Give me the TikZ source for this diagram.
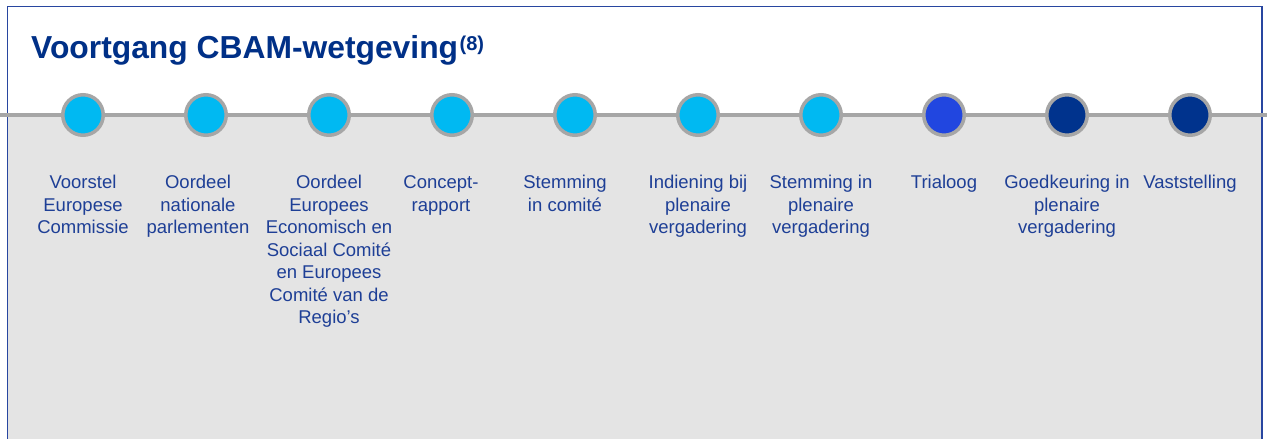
\documentclass[tikz,border=0pt]{standalone}
\usepackage{fontspec}
\setmainfont{Liberation Sans}
\definecolor{framec}{RGB}{40,70,160}
\definecolor{titlec}{RGB}{0,48,135}
\definecolor{labelc}{RGB}{30,63,150}
\definecolor{linec}{RGB}{166,166,166}
\definecolor{panelc}{RGB}{228,228,228}
\definecolor{cyanc}{RGB}{0,185,242}
\definecolor{midc}{RGB}{33,70,224}
\definecolor{navyc}{RGB}{0,51,141}
\newcommand{\fl}{\vphantom{lV}}
\tikzset{
  dot/.style={circle, draw=linec, line width=3.5pt, minimum size=40.5pt, inner sep=0pt},
  lbl/.style={anchor=north, align=center, inner sep=0pt, text=labelc,
    font=\fontsize{18.5}{22.5}\selectfont},
  timeline/.style={draw=linec, line width=4pt},
}
\begin{document}
\begin{tikzpicture}[x=1pt,y=-1pt]
\useasboundingbox (0,0) rectangle (1267,439);
\fill[white] (0,0) rectangle (1267,439);
\fill[panelc] (8,115) rectangle (1262,445);
\draw[framec, line width=1.5pt] (7.5,445) -- (7.5,6.5) -- (1262,6.5) -- (1262,445);
\node[anchor=base west, inner sep=0pt, text=titlec, font=\bfseries\fontsize{31.8}{36}\selectfont] (title) at (31,58.5)
  {Voortgang CBAM-wetgeving\hspace{1.5pt}\raisebox{8.5pt}{\fontsize{20}{22}\selectfont(8)}};
\coordinate (lstart) at (0,115);
\coordinate (lend) at (1267,115);
\draw[timeline] (lstart) -- (lend);
\foreach \i/\c in {1/cyanc,2/cyanc,3/cyanc,4/cyanc,5/cyanc,6/cyanc,7/cyanc,8/midc,9/navyc,10/navyc}{
  \node[dot, fill=\c] (d\i) at ({83+123*(\i-1)},115) {};
}
\node[lbl] (t1) at (83,175) {\fl Voorstel\\Europese\\Commissie};
\node[lbl] (t2) at (198,175) {\fl Oordeel\\nationale\\parlementen};
\node[lbl] (t3) at (329,175) {\fl Oordeel\\Europees\\Economisch en\\Sociaal Comité\\en Europees\\Comité van de\\Regio’s};
\node[lbl] (t4) at (441,175) {\fl Concept-\\rapport};
\node[lbl] (t5) at (565,175) {\fl Stemming\\in comité};
\node[lbl] (t6) at (698,175) {\fl Indiening bij\\plenaire\\vergadering};
\node[lbl] (t7) at (821,175) {\fl Stemming in\\plenaire\\vergadering};
\node[lbl] (t8) at (944,175) {\fl Trialoog};
\node[lbl] (t9) at (1067,175) {\fl Goedkeuring in\\plenaire\\vergadering};
\node[lbl] (t10) at (1190,175) {\fl Vaststelling};
\end{tikzpicture}
\end{document}
